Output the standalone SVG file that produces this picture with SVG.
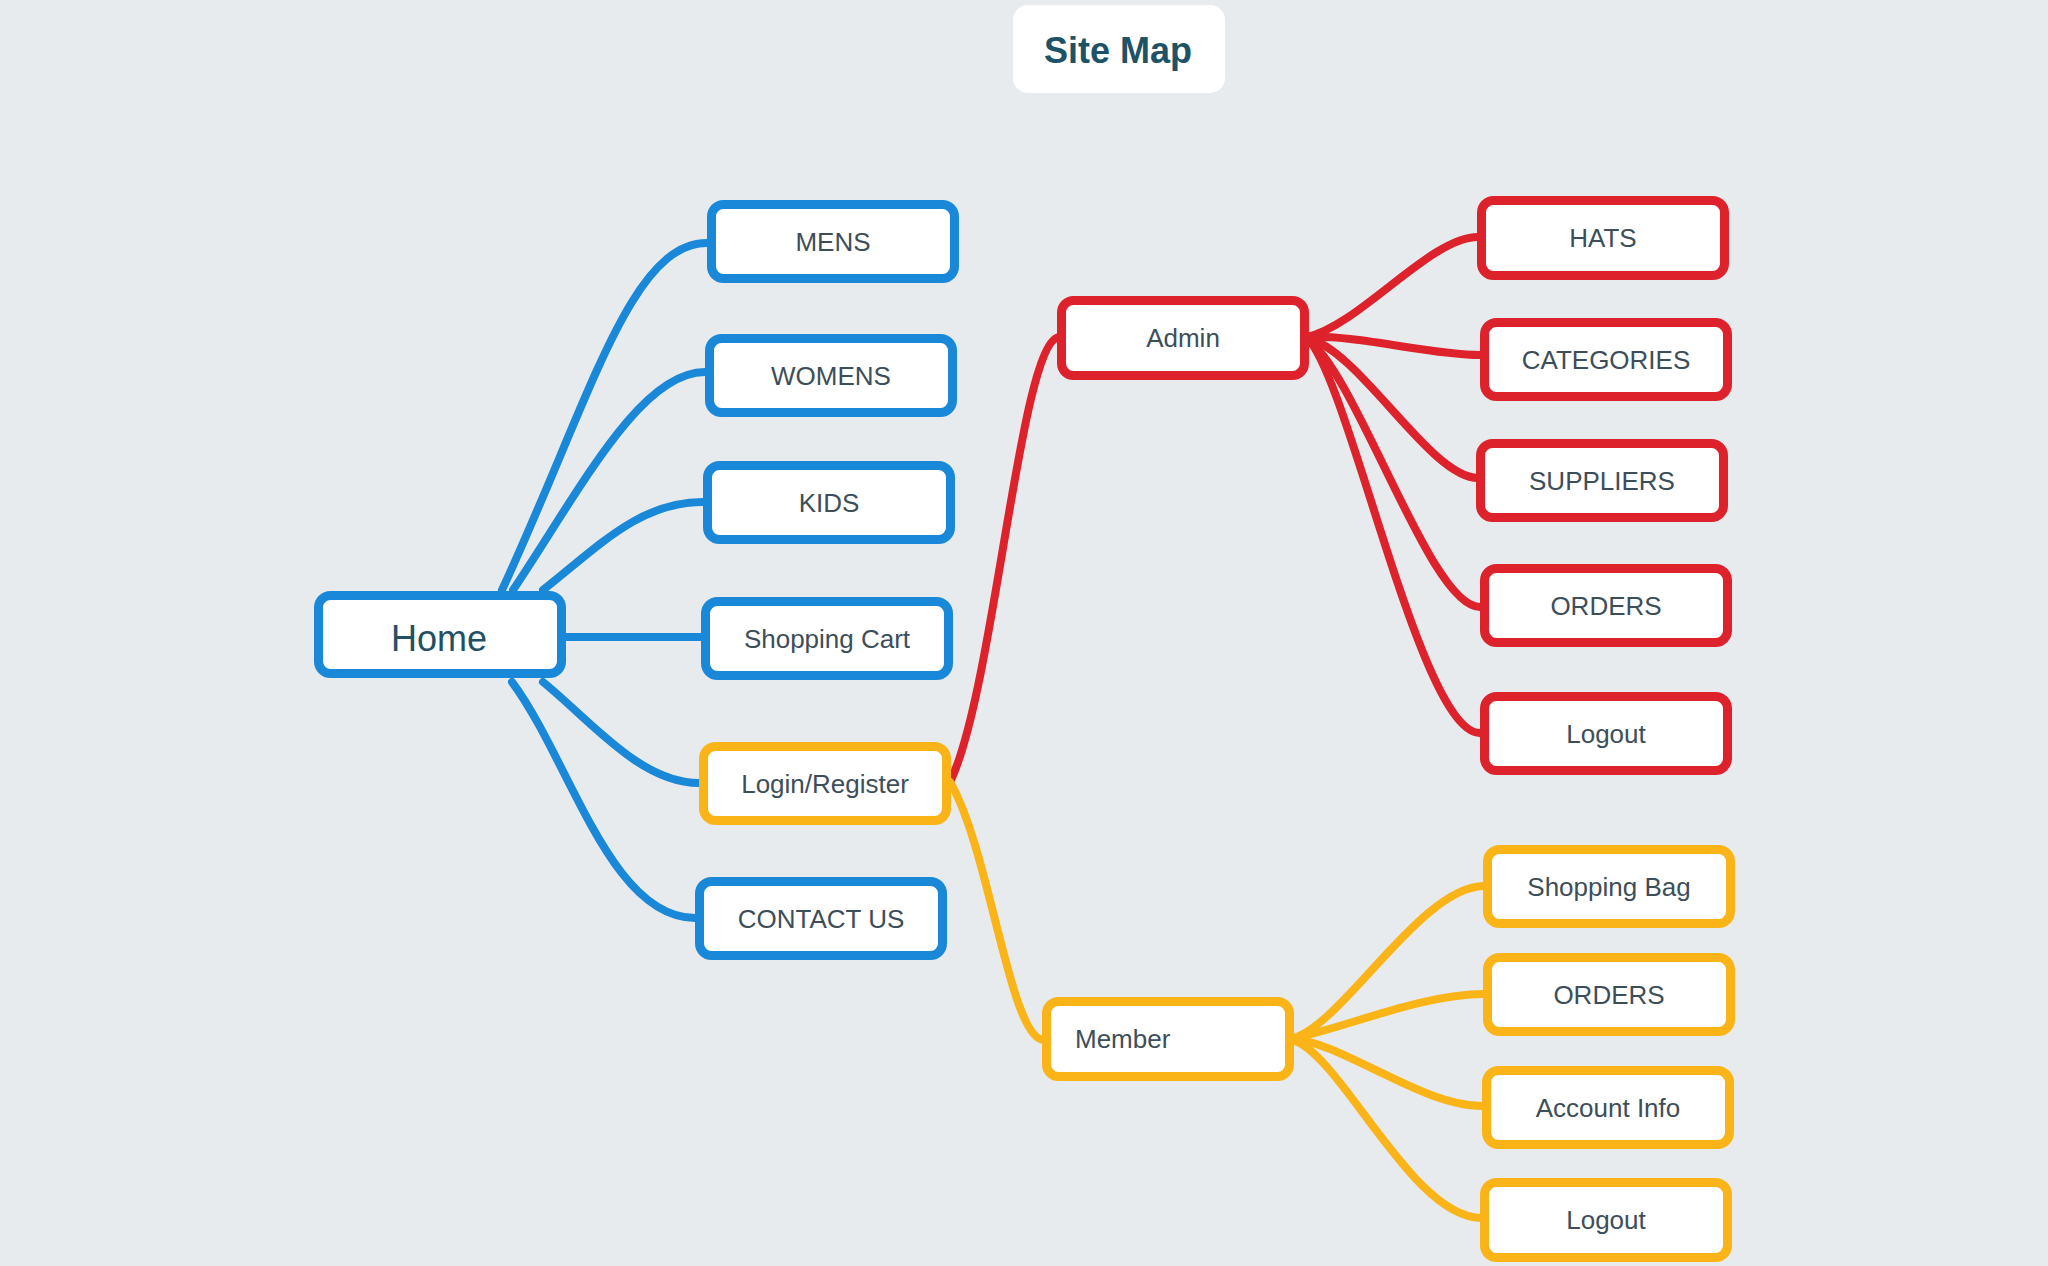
<svg xmlns="http://www.w3.org/2000/svg" width="2048" height="1266" viewBox="0 0 2048 1266">
<style>
.bg{fill:#e8ebee}
.node rect{fill:#fff;stroke-width:9}
.blue rect{stroke:#1a88d9}
.red rect{stroke:#de222b}
.yel rect{stroke:#fbb417}
.lbl{font-family:"Liberation Sans",Arial,sans-serif;font-size:26px;fill:#3d4e5b;text-anchor:middle}
.conn path{fill:none;stroke-width:8;stroke-linecap:round}
.cb path{stroke:#1a88d9}
.cr path{stroke:#de222b}
.cy path{stroke:#fbb417}
</style>
<rect class="bg" x="0" y="0" width="2048" height="1266"/>
<g id="title">
<rect x="1013" y="5" width="212" height="88" rx="15" fill="#fff"/>
<text x="1118" y="63" font-family="Liberation Sans,Arial,sans-serif" font-size="36" font-weight="bold" fill="#1e5266" text-anchor="middle">Site Map</text>
</g>
<g id="connectors" class="conn">
<g class="cb">
<path d="M502 590 C590 400 630 243 707 243"/>
<path d="M513 590 C580 490 640 372 705 372"/>
<path d="M543 590 C600 545 640 502 703 502"/>
<path d="M562 637 L701 637"/>
<path d="M543 682 C590 720 640 783 699 783"/>
<path d="M512 682 C570 760 610 918 695 918"/>
</g>
<g class="cr">
<path d="M950 782 C995 690 1020 337 1060 337"/>
<path d="M1307 337 C1360 325 1430 237 1478 237"/>
<path d="M1307 337 C1360 335 1430 355 1480 355"/>
<path d="M1307 338 C1360 350 1430 478 1478 478"/>
<path d="M1307 338 C1360 380 1430 607 1480 607"/>
<path d="M1307 338 C1350 380 1420 733 1480 733"/>
</g>
<g class="cy">
<path d="M950 782 C990 850 1010 1040 1044 1040"/>
<path d="M1290 1039 C1340 1030 1420 886 1484 886"/>
<path d="M1290 1039 C1340 1030 1420 994 1484 994"/>
<path d="M1290 1039 C1340 1040 1420 1106 1482 1106"/>
<path d="M1290 1039 C1340 1050 1410 1218 1482 1218"/>
</g>
</g>
<g id="home" class="node blue">
<rect x="318.5" y="595.5" width="243" height="78" rx="12"/>
<text x="439" y="651" font-family="Liberation Sans,Arial,sans-serif" font-size="36" fill="#1f5064" text-anchor="middle">Home</text>
</g>
<g id="mens" class="node blue"><rect x="711.5" y="204.5" width="243" height="74" rx="12"/><text class="lbl" x="833" y="251">MENS</text></g>
<g id="womens" class="node blue"><rect x="709.5" y="338.5" width="243" height="74" rx="12"/><text class="lbl" x="831" y="385">WOMENS</text></g>
<g id="kids" class="node blue"><rect x="707.5" y="465.5" width="243" height="74" rx="12"/><text class="lbl" x="829" y="512">KIDS</text></g>
<g id="cart" class="node blue"><rect x="705.5" y="601.5" width="243" height="74" rx="12"/><text class="lbl" x="827" y="648">Shopping Cart</text></g>
<g id="login" class="node yel"><rect x="703.5" y="746.5" width="243" height="74" rx="12"/><text class="lbl" x="825" y="793">Login/Register</text></g>
<g id="contact" class="node blue"><rect x="699.5" y="881.5" width="243" height="74" rx="12"/><text class="lbl" x="821" y="928">CONTACT US</text></g>
<g id="admin" class="node red"><rect x="1061.5" y="300.5" width="243" height="75" rx="12"/><text class="lbl" x="1183" y="347">Admin</text></g>
<g id="hats" class="node red"><rect x="1481.5" y="200.5" width="243" height="75" rx="12"/><text class="lbl" x="1603" y="247">HATS</text></g>
<g id="categories" class="node red"><rect x="1484.5" y="322.5" width="243" height="74" rx="12"/><text class="lbl" x="1606" y="369">CATEGORIES</text></g>
<g id="suppliers" class="node red"><rect x="1480.5" y="443.5" width="243" height="74" rx="12"/><text class="lbl" x="1602" y="490">SUPPLIERS</text></g>
<g id="orders-admin" class="node red"><rect x="1484.5" y="568.5" width="243" height="74" rx="12"/><text class="lbl" x="1606" y="615">ORDERS</text></g>
<g id="logout-admin" class="node red"><rect x="1484.5" y="696.5" width="243" height="74" rx="12"/><text class="lbl" x="1606" y="743">Logout</text></g>
<g id="member" class="node yel"><rect x="1046.5" y="1001.5" width="243" height="75" rx="12"/><text class="lbl" x="1075" y="1048" text-anchor="start" style="text-anchor:start">Member</text></g>
<g id="bag" class="node yel"><rect x="1487.5" y="849.5" width="243" height="74" rx="12"/><text class="lbl" x="1609" y="896">Shopping Bag</text></g>
<g id="orders-member" class="node yel"><rect x="1487.5" y="957.5" width="243" height="74" rx="12"/><text class="lbl" x="1609" y="1004">ORDERS</text></g>
<g id="account" class="node yel"><rect x="1486.5" y="1070.5" width="243" height="74" rx="12"/><text class="lbl" x="1608" y="1117">Account Info</text></g>
<g id="logout-member" class="node yel"><rect x="1484.5" y="1182.5" width="243" height="75" rx="12"/><text class="lbl" x="1606" y="1229">Logout</text></g>
</svg>
